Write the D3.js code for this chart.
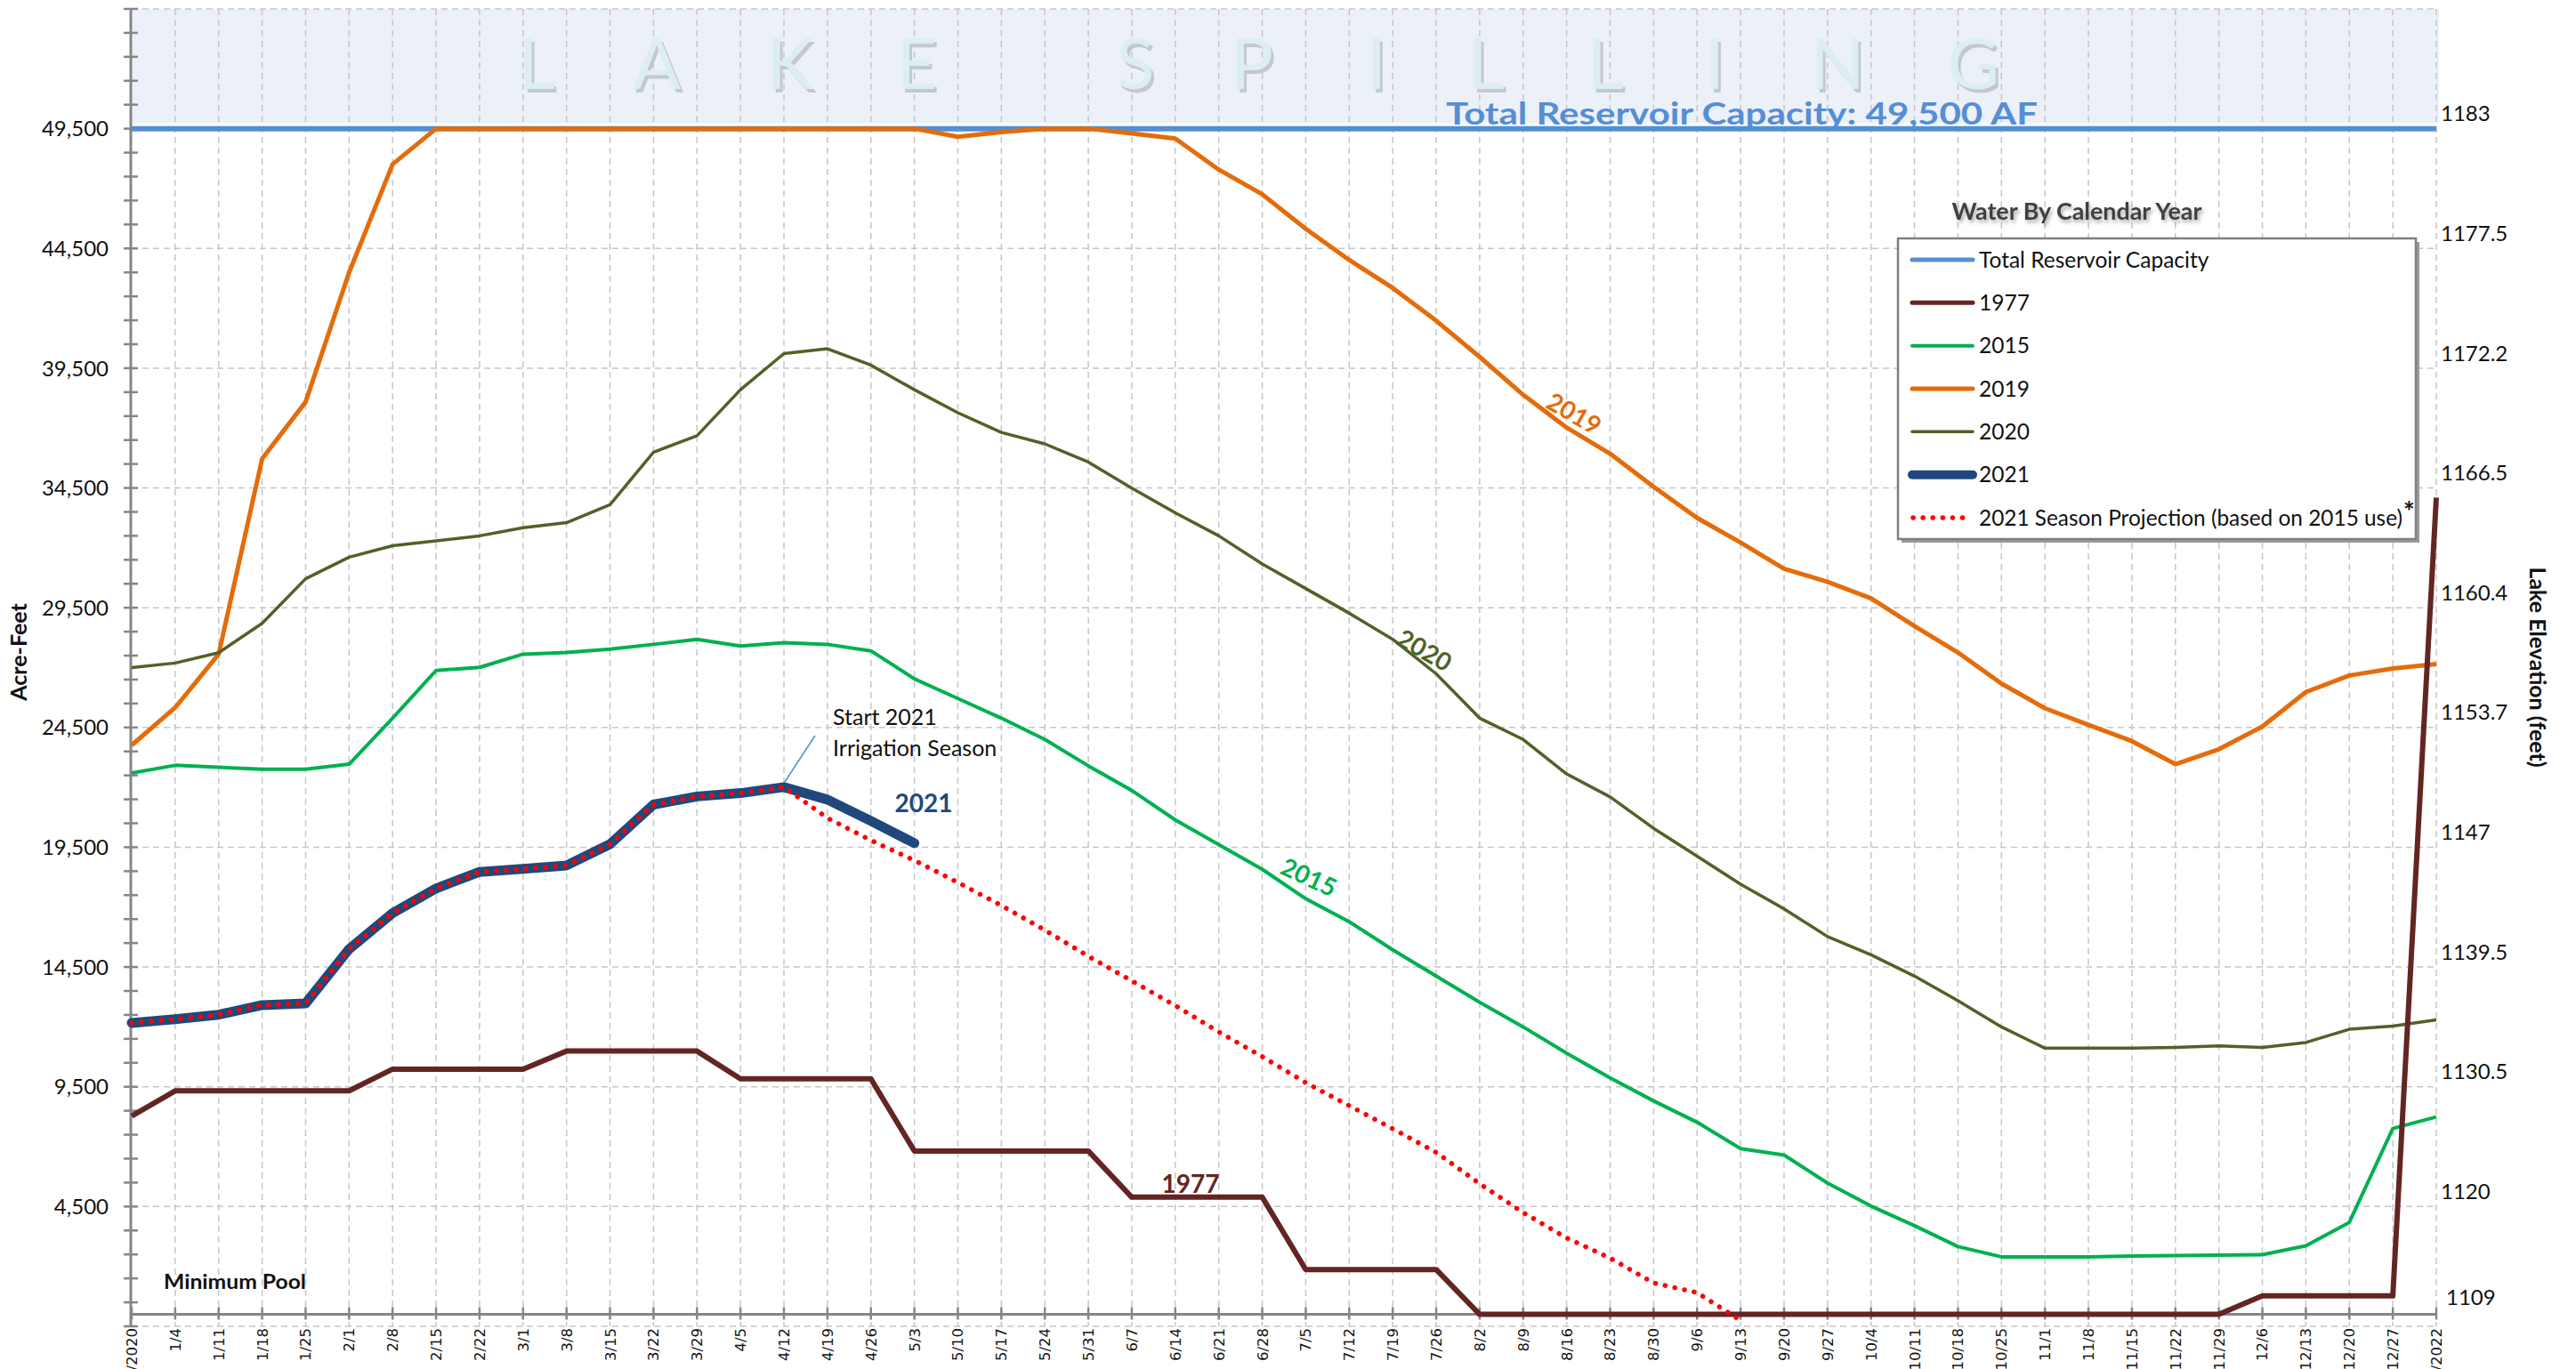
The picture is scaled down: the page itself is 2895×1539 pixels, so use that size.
<!DOCTYPE html>
<html><head><meta charset="utf-8">
<script src="https://cdn.jsdelivr.net/npm/d3@7"></script>
<style>
html,body{margin:0;padding:0;background:#fff;overflow:hidden;}
svg{display:block;font-family:Lato,"Open Sans",sans-serif;}
</style></head><body>
<svg id="chart" width="2895" height="1539"></svg>
<script>
// ---------------- DATA ----------------
const dates = ["1/1/2020","1/4","1/11","1/18","1/25","2/1","2/8","2/15","2/22","3/1","3/8","3/15","3/22","3/29",
  "4/5","4/12","4/19","4/26","5/3","5/10","5/17","5/24","5/31","6/7","6/14","6/21","6/28","7/5","7/12","7/19","7/26",
  "8/2","8/9","8/16","8/23","8/30","9/6","9/13","9/20","9/27","10/4","10/11","10/18","10/25","11/1","11/8","11/15",
  "11/22","11/29","12/6","12/13","12/20","12/27","1/1/2022"];
const capacityValue = 49500;
const capacity = dates.map(() => capacityValue);
const y1977 = [8280,9330,9330,9330,9330,9330,10235,10235,10235,10235,10990,10990,10990,10990,9830,9830,9830,9830,
  6820,6820,6820,6820,6820,4890,4890,4890,4890,1870,1870,1870,1870,
  0,0,0,0,0,0,0,0,0,0,0,0,0,0,0,0,0,0,770,770,770,770,34100];
const y2015 = [22600,22920,22840,22760,22760,22970,24890,26880,27010,27560,27630,27770,27970,28180,27900,28040,27970,27700,
  26530,25710,24890,24000,22900,21870,20640,19610,18580,17350,16390,15220,14120,13030,12000,10900,9870,8910,8020,6920,
  6650,5480,4520,3700,2830,2400,2400,2400,2430,2450,2470,2490,2860,3840,7760,8240];
const y2019 = [23760,25330,27560,35720,38090,43500,48016,49500,49500,49500,49500,49500,49500,49500,49500,49500,49500,49500,49500,
  49160,49360,49500,49500,49300,49090,47790,46760,45320,44020,42850,41480,39970,38390,37020,35930,34550,33250,32220,31130,
  30580,29890,28730,27630,26330,25300,24610,23930,22970,23590,24540,25980,26670,26960,27150];
const y2020 = [27000,27190,27620,28850,30710,31610,32090,32290,32500,32840,33050,33800,35990,36680,38600,40110,40310,39630,
  38600,37640,36820,36340,35580,34490,33460,32500,31330,30300,29270,28180,26740,24890,24000,22560,21600,20290,19130,17960,
  16930,15770,15010,14120,13090,12000,11110,11110,11110,11140,11210,11140,11350,11900,12030,12290];
const y2021 = [12167,12320,12510,12910,12980,15250,16750,17780,18470,18600,18740,19630,21280,21620,21760,22010,21490,20600,19670];
const yProjection = [12167,12320,12510,12910,12980,15250,16750,17780,18470,18600,18740,19630,21280,21620,21760,22010,
  20720,19790,18950,18030,17070,16040,14950,13920,12890,11790,10760,9670,8710,7750,6760,5450,4250,3190,2350,1310,905,-250];
const leftTickValues = [4500,9500,14500,19500,24500,29500,34500,39500,44500,49500];
const leftTickLabels = ["4,500","9,500","14,500","19,500","24,500","29,500","34,500","39,500","44,500","49,500"];
const elevTickValues = [0,4500,9500,14500,19500,24500,29500,34500,39500,44500,49500];
const elevTickLabels = ["1109","1120","1130.5","1139.5","1147","1153.7","1160.4","1166.5","1172.2","1177.5","1183"];
const legendLabels = ["Total Reservoir Capacity","1977","2015","2019","2020","2021","2021 Season Projection (based on 2015 use)"];
const bannerLetters = ["L","A","K","E","S","P","I","L","L","I","N","G"];

// ---------------- CHART ----------------
const svg = d3.select("#chart");
const plotL = 148, plotR = 2738;
const x = d3.scalePoint().domain(dates).range([plotL, plotR]);
const y = d3.scaleLinear().domain([-500, 54500]).range([1491, 10]);
const gridCol = "#C6C6C6", axisCol = "#868686";

// lake spilling band
svg.append("rect").attr("x", plotL).attr("y", y(54500))
  .attr("width", plotR - plotL + 3).attr("height", y(capacityValue) - y(54500) - 6)
  .attr("fill", "#ECF0F8");

// gridlines
const grid = svg.append("g").attr("stroke", gridCol).attr("stroke-width", 1.5).attr("stroke-dasharray", "7,5");
grid.selectAll("line.gv").data(dates.slice(1)).join("line").attr("class", "gv")
  .attr("x1", d => x(d)).attr("x2", d => x(d)).attr("y1", y(54500)).attr("y2", y(-500));
grid.selectAll("line.gh").data(d3.range(-500, 54501, 5000)).join("line").attr("class", "gh")
  .attr("x1", plotL).attr("x2", plotR).attr("y1", d => y(d)).attr("y2", d => y(d));

// banner letters
const letterX = [603, 738, 888, 1030, 1276, 1407, 1547, 1670, 1804, 1927, 2065, 2218];
const banner = svg.append("g").attr("font-size", 80).attr("text-anchor", "middle");
banner.selectAll("text.sh").data(bannerLetters).join("text").attr("class", "sh")
  .attr("x", (d, i) => letterX[i] + 3).attr("y", 104).attr("fill", "#C3C8CF").text(d => d);
banner.selectAll("text.fg").data(bannerLetters).join("text").attr("class", "fg")
  .attr("x", (d, i) => letterX[i]).attr("y", 100).attr("fill", "#DCEEF3").text(d => d);

// axes lines
svg.append("line").attr("x1", plotL - 1).attr("x2", plotL - 1).attr("y1", y(54500)).attr("y2", y(-500))
  .attr("stroke", axisCol).attr("stroke-width", 3);
svg.append("line").attr("x1", plotL).attr("x2", plotR).attr("y1", y(0)).attr("y2", y(0))
  .attr("stroke", axisCol).attr("stroke-width", 3);
svg.append("g").selectAll("line").data(d3.range(-500, 54501, 1000)).join("line")
  .attr("x1", plotL - 9).attr("x2", plotL + 7).attr("y1", d => y(d)).attr("y2", d => y(d))
  .attr("stroke", axisCol).attr("stroke-width", 2.5);
svg.append("g").selectAll("line").data(dates).join("line")
  .attr("x1", d => x(d)).attr("x2", d => x(d)).attr("y1", y(0) - 8).attr("y2", y(0) + 6)
  .attr("stroke", axisCol).attr("stroke-width", 2.5);

// left labels
svg.append("g").attr("font-size", 24).attr("fill", "#111").attr("text-anchor", "end")
  .selectAll("text").data(leftTickValues).join("text")
  .attr("x", 122).attr("y", d => y(d)).attr("dy", "0.36em").text((d, i) => leftTickLabels[i]);
// right labels
svg.append("g").attr("font-size", 24).attr("fill", "#111").attr("text-anchor", "start")
  .selectAll("text").data(elevTickValues).join("text")
  .attr("x", (d, i) => i === 0 ? 2749 : 2743).attr("y", d => y(d) - (d === 0 ? 19 : 17)).attr("dy", "0.36em")
  .text((d, i) => elevTickLabels[i]);
// x labels
svg.append("g").attr("font-size", 16.5).style("font-family", "'DejaVu Sans',Verdana,sans-serif")
  .attr("fill", "#111").attr("text-anchor", "end")
  .selectAll("text").data(dates).join("text")
  .attr("transform", d => `translate(${x(d)},1493) rotate(-90)`).attr("dy", "0.36em").text(d => d);

// axis titles
svg.append("text").attr("transform", "translate(30,733) rotate(-90)").attr("text-anchor", "middle")
  .attr("font-size", 25).attr("font-weight", 700).attr("fill", "#111").text("Acre-Feet");
svg.append("text").attr("transform", "translate(2843,750) rotate(90)").attr("text-anchor", "middle")
  .attr("font-size", 25).attr("font-weight", 700).attr("fill", "#111").text("Lake Elevation (feet)");

// ---------------- LINES ----------------
const line = d3.line().x((d, i) => x(dates[i])).y(d => y(d));
const lines = svg.append("g").attr("fill", "none").attr("stroke-linejoin", "round");
lines.append("path").attr("d", line(capacity)).attr("stroke", "#558ED5").attr("stroke-width", 6);
lines.append("path").attr("d", line(y2015)).attr("stroke", "#00B050").attr("stroke-width", 4);
lines.append("path").attr("d", line(y2019)).attr("stroke", "#E46C0A").attr("stroke-width", 5);
lines.append("path").attr("d", line(y2020)).attr("stroke", "#4F6228").attr("stroke-width", 3.5);
lines.append("path").attr("d", line(y1977)).attr("stroke", "#632523").attr("stroke-width", 6);
lines.append("path").attr("d", line(y2021)).attr("stroke", "#1F497D").attr("stroke-width", 11).attr("stroke-linecap", "round");
lines.append("path").attr("d", line(yProjection)).attr("stroke", "#FF0000").attr("stroke-width", 5.5)
  .attr("stroke-linecap", "round").attr("stroke-dasharray", "0.1,11");

// ---------------- LABELS ----------------
svg.append("text").attr("x", 1625).attr("y", 140).attr("font-size", 35).attr("font-weight", 700)
  .attr("fill", "#558ED5").attr("textLength", 665).attr("lengthAdjust", "spacingAndGlyphs")
  .text("Total Reservoir Capacity: 49,500 AF");
function lineLabel(txt, cx, cy, rot, col) {
  svg.append("text").attr("transform", `translate(${cx},${cy}) rotate(${rot})`).attr("text-anchor", "middle")
    .attr("dy", "0.36em").attr("font-size", 28).attr("font-weight", 700).attr("fill", col).text(txt);
}
lineLabel("2019", 1769, 465, 30, "#E46C0A");
lineLabel("2020", 1601, 731, 30, "#4F6228");
lineLabel("2015", 1471, 986, 25, "#00B050");
lineLabel("1977", 1338, 1331, 0, "#632523");
lineLabel("2021", 1038, 903, 0, "#1F497D");
svg.append("text").attr("x", 184).attr("y", 1449).attr("font-size", 23).attr("font-weight", 700)
  .attr("fill", "#111").attr("textLength", 160).attr("lengthAdjust", "spacingAndGlyphs").text("Minimum Pool");
// annotation
svg.append("line").attr("x1", 882).attr("y1", 879).attr("x2", 916).attr("y2", 827)
  .attr("stroke", "#558ED5").attr("stroke-width", 1.5);
svg.append("text").attr("x", 936).attr("y", 815).attr("font-size", 25).attr("fill", "#111").text("Start 2021");
svg.append("text").attr("x", 936).attr("y", 850).attr("font-size", 25).attr("fill", "#111").text("Irrigation Season");

// ---------------- LEGEND ----------------
const defs = svg.append("defs");
const f = defs.append("filter").attr("id", "tshadow").attr("x", "-10%").attr("y", "-30%").attr("width", "130%").attr("height", "180%");
f.append("feDropShadow").attr("dx", 2).attr("dy", 3).attr("stdDeviation", 2).attr("flood-color", "#000").attr("flood-opacity", 0.35);
svg.append("text").attr("x", 2334).attr("y", 247).attr("text-anchor", "middle").attr("font-size", 26)
  .attr("font-weight", 700).attr("fill", "#404040").attr("filter", "url(#tshadow)")
  .attr("textLength", 281).attr("lengthAdjust", "spacingAndGlyphs").text("Water By Calendar Year");
svg.append("rect").attr("x", 2137).attr("y", 272).attr("width", 582).attr("height", 338).attr("fill", "#9A9A9A");
svg.append("rect").attr("x", 2133).attr("y", 268).attr("width", 582).attr("height", 338)
  .attr("fill", "#fff").attr("stroke", "#7F7F7F").attr("stroke-width", 2.5);
const legStyles = [
  {c: "#558ED5", w: 5}, {c: "#632523", w: 5}, {c: "#00B050", w: 4}, {c: "#E46C0A", w: 5},
  {c: "#4F6228", w: 3.5}, {c: "#1F497D", w: 10}, {c: "#FF0000", w: 5.5, dash: "0.1,11"}];
const leg = svg.append("g");
const legY = d3.scalePoint().domain(legendLabels).range([292, 582]);
leg.selectAll("line").data(legendLabels).join("line")
  .attr("x1", (d, i) => i === 6 ? 2150 : 2149).attr("x2", (d, i) => i === 6 ? 2216 : 2217)
  .attr("y1", d => legY(d)).attr("y2", d => legY(d))
  .attr("stroke", (d, i) => legStyles[i].c).attr("stroke-width", (d, i) => legStyles[i].w)
  .attr("stroke-linecap", "round").attr("stroke-dasharray", (d, i) => legStyles[i].dash || null);
leg.selectAll("text").data(legendLabels).join("text")
  .attr("x", 2224).attr("y", d => legY(d)).attr("dy", "0.36em").attr("font-size", 24.5).attr("fill", "#111")
  .attr("textLength", (d, i) => i === 6 ? 476 : null).attr("lengthAdjust", "spacingAndGlyphs")
  .text(d => d);
leg.append("text").attr("x", 2701).attr("y", legY(legendLabels[6]) + 4).attr("font-size", 30)
  .attr("font-weight", 700).attr("fill", "#111").text("*");
</script>
</body></html>
